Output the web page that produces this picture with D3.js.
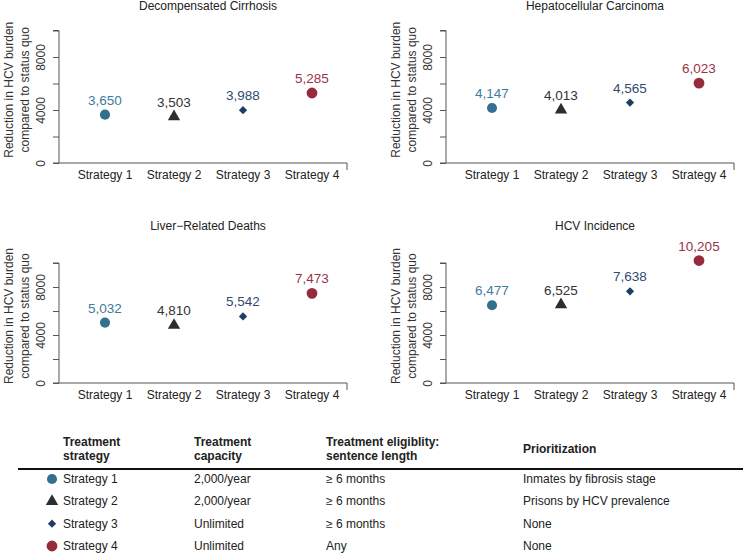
<!DOCTYPE html>
<html>
<head>
<meta charset="utf-8">
<script src="https://cdn.jsdelivr.net/npm/d3@7.9.0/dist/d3.min.js"></script>
<style>
  body { margin: 0; background: #fff; }
  svg { display: block; font-family: "Liberation Sans", Arial, sans-serif; }
</style>
</head>
<body>
<div id="chart"></div>
<script>
// data
const strategies = ["Strategy 1", "Strategy 2", "Strategy 3", "Strategy 4"];
const panelTitles = ["Decompensated Cirrhosis", "Hepatocellular Carcinoma", "Liver\u2212Related Deaths", "HCV Incidence"];
const cirrhosis = [3650, 3503, 3988, 5285];
const carcinoma = [4147, 4013, 4565, 6023];
const deaths = [5032, 4810, 5542, 7473];
const incidence = [6477, 6525, 7638, 10205];
const yTicks = [0, 2000, 4000, 6000, 8000, 10000];
const yTickLabels = [0, 4000, 8000];

const tableHeaders = [["Treatment", "strategy"], ["Treatment", "capacity"], ["Treatment eligiblity:", "sentence length"], ["Prioritization"]];
const capacity = ["2,000/year", "2,000/year", "Unlimited", "Unlimited"];
const eligibility = ["\u2265 6 months", "\u2265 6 months", "\u2265 6 months", "Any"];
const prioritization = ["Inmates by fibrosis stage", "Prisons by HCV prevalence", "None", "None"];

// config
const width = 744,
  height = 553;

const markFill = ["#33708f", "#2a2e2e", "#1f3e66", "#962b3b"];
const labelFill = ["#3f7b9c", "#333333", "#2f4c70", "#9a3345"];
const symbols = [
  d3.symbol().type(d3.symbolCircle).size(80),
  d3.symbol().type(d3.symbolTriangle).size(66),
  d3.symbol().type(d3.symbolSquare).size(34),
  d3.symbol().type(d3.symbolCircle).size(92),
];
const rotations = [0, 0, 45, 0];

const svg = d3
  .select("#chart")
  .append("svg")
  .attr("width", width)
  .attr("height", height);

// panel layout: axis x, y of 0, y of 10000, title baseline
const panels = [
  { values: cirrhosis, ax: 59, y0: 163, y1: 30.5, titleY: 10 },
  { values: carcinoma, ax: 446, y0: 163, y1: 30.5, titleY: 10 },
  { values: deaths, ax: 59, y0: 383, y1: 263, titleY: 230 },
  { values: incidence, ax: 446, y0: 383, y1: 263, titleY: 230 },
];

panels.forEach((p, i) => {
  const g = svg.append("g");
  const x = d3.scalePoint().domain(strategies).range([p.ax + 46, p.ax + 253]);
  const y = d3.scaleLinear().domain([0, 10000]).range([p.y0, p.y1]);

  // title
  g.append("text")
    .attr("x", p.ax + 149)
    .attr("y", p.titleY)
    .attr("text-anchor", "middle")
    .style("font-size", "12px")
    .attr("fill", "#222")
    .text(panelTitles[i]);

  // y axis
  const yAxis = g
    .append("g")
    .attr("transform", `translate(${p.ax},0)`)
    .call(d3.axisLeft(y).tickValues(yTicks).tickSize(6).tickFormat((d) => (yTickLabels.includes(d) ? d : "")));
  yAxis.select(".domain").attr("stroke", "#555").attr("d", `M-6,${y(10000)}H0V${y(0)}H-6`);
  yAxis.selectAll(".tick line").attr("stroke", "#555");
  yAxis
    .selectAll(".tick text")
    .attr("transform", "rotate(-90)")
    .attr("x", 0)
    .attr("y", -14)
    .attr("dy", 0)
    .attr("text-anchor", "middle")
    .style("font-size", "12px")
    .attr("fill", "#333");

  // y title
  const cy = (p.y0 + p.y1) / 2 - 7;
  [["Reduction in HCV burden", -46], ["compared to status quo", -30]].forEach(([t, off]) => {
    g.append("text")
      .attr("transform", `translate(${p.ax + off},${cy}) rotate(-90)`)
      .attr("text-anchor", "middle")
      .style("font-size", "12px")
      .attr("fill", "#333")
      .text(t);
  });

  // x axis line
  g.append("path")
    .attr("d", `M${p.ax},${p.y0}H${p.ax + 288}V${p.y0 + 7}`)
    .attr("fill", "none")
    .attr("stroke", "#555");

  g.selectAll(".xlab")
    .data(strategies)
    .join("text")
    .attr("x", (d) => x(d))
    .attr("y", p.y0 + 16)
    .attr("text-anchor", "middle")
    .style("font-size", "12px")
    .attr("fill", "#222")
    .text((d) => d);

  // points
  g.selectAll(".pt")
    .data(p.values)
    .join("path")
    .attr("d", (d, j) => symbols[j]())
    .attr("transform", (d, j) => `translate(${x(strategies[j])},${y(d)}) rotate(${rotations[j]})`)
    .attr("fill", (d, j) => markFill[j]);

  g.selectAll(".val")
    .data(p.values)
    .join("text")
    .attr("x", (d, j) => x(strategies[j]))
    .attr("y", (d) => y(d) - 10)
    .attr("text-anchor", "middle")
    .style("font-size", "13.5px")
    .attr("fill", (d, j) => labelFill[j])
    .text((d) => d3.format(",")(d));
});

// table
const cols = [63, 194, 326, 523];
const t = svg.append("g").style("font-size", "12px").attr("fill", "#222");

tableHeaders.forEach((lines, c) => {
  lines.forEach((ln, k) => {
    t.append("text")
      .attr("x", cols[c])
      .attr("y", lines.length === 1 ? 453 : 446 + k * 14)
      .style("font-weight", "bold")
      .text(ln);
  });
});

t.append("line")
  .attr("x1", 18)
  .attr("x2", 743)
  .attr("y1", 469)
  .attr("y2", 469)
  .attr("stroke", "#111")
  .attr("stroke-width", 1.8);

const rowY = d3.scalePoint().domain(strategies).range([479, 546]);

strategies.forEach((s, j) => {
  const yy = rowY(s);
  t.append("path")
    .attr("d", symbols[j]())
    .attr("transform", `translate(52,${yy}) rotate(${rotations[j]})`)
    .attr("fill", markFill[j]);
  [s, capacity[j], eligibility[j], prioritization[j]].forEach((txt, c) => {
    t.append("text")
      .attr("x", cols[c])
      .attr("y", yy + 4)
      .text(txt);
  });
});
</script>
</body>
</html>
